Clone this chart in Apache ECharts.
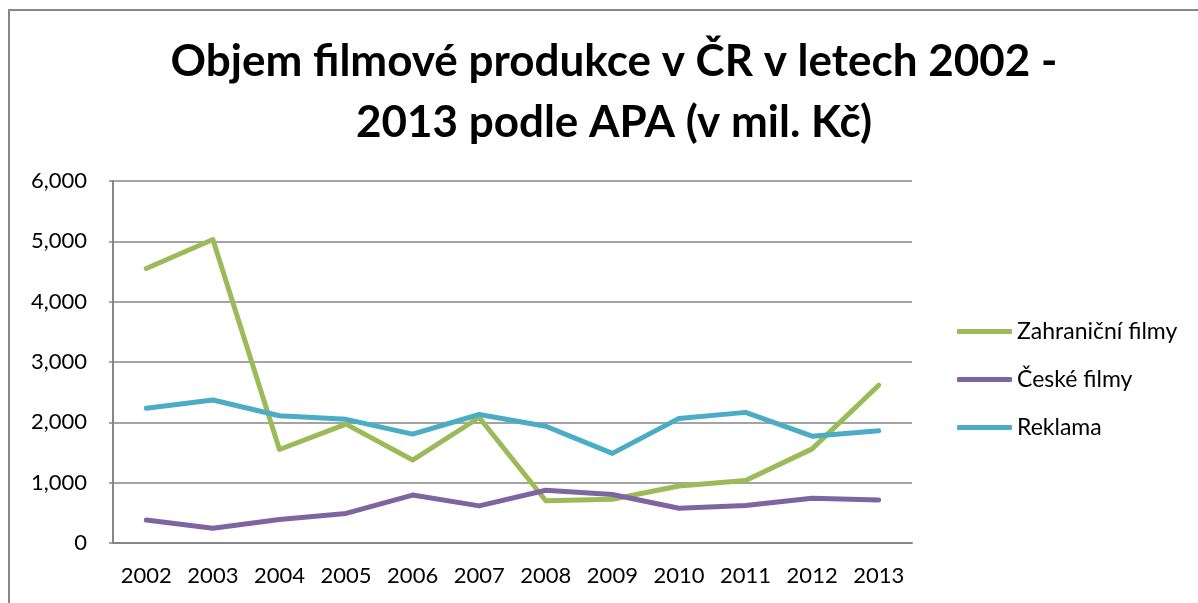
<!DOCTYPE html>
<html>
<head>
<meta charset="utf-8">
<script src="https://cdn.jsdelivr.net/npm/echarts@6/dist/echarts.min.js"></script>
<style>
html, body { margin: 0; padding: 0; background: #fff; }
#chart { width: 1198px; height: 603px; }
</style>
</head>
<body>
<div id="chart"></div>
<script>
// data (mil. Kč)
const years = ['2002', '2003', '2004', '2005', '2006', '2007', '2008', '2009', '2010', '2011', '2012', '2013']
const zahranicni = [4550, 5030, 1550, 1970, 1375, 2080, 700, 725, 945, 1035, 1560, 2615]
const ceske = [380, 245, 390, 490, 795, 615, 875, 805, 575, 620, 740, 712]
const reklama = [2235, 2370, 2110, 2050, 1805, 2130, 1935, 1485, 2065, 2165, 1770, 1860]

const font = 'Lato, "Open Sans", sans-serif'

const chart = echarts.init(document.getElementById('chart'))

function line(name, data, color) {
	return {
		name: name,
		type: 'line',
		data: data,
		symbol: 'none',
		color: color,
		lineStyle: { width: 5, color: color, cap: 'round', join: 'round' },
		animation: false
	}
}

chart.setOption({
	title: {
		text: 'Objem filmové produkce v ČR v letech 2002 -\n2013 podle APA (v mil. Kč)',
		left: 609,
		top: 26,
		textAlign: 'center',
		textStyle: {
			fontFamily: font,
			fontWeight: 'bold',
			fontSize: 44,
			lineHeight: 61,
			color: '#000'
		}
	},
	graphic: [{
		type: 'rect',
		shape: { x: 9, y: 10, width: 1200, height: 600 },
		style: { fill: null, stroke: '#868686', lineWidth: 2 },
		silent: true
	}],
	legend: {
		orient: 'vertical',
		left: 952,
		top: 315,
		icon: 'roundRect',
		itemWidth: 55,
		itemHeight: 5,
		itemGap: 25,
		itemTextGap: 2,
		textStyle: { fontFamily: font, fontSize: 23, color: '#000' },
		data: ['Zahraniční filmy', 'České filmy', 'Reklama']
	},
	grid: {
		left: 113,
		right: 286,
		top: 181,
		bottom: 60
	},
	xAxis: {
		type: 'category',
		data: years,
		boundaryGap: true,
		axisLine: { lineStyle: { color: '#868686', width: 2 } },
		axisTick: { show: false },
		axisLabel: { fontFamily: font, fontSize: 22, color: '#000', margin: 22 }
	},
	yAxis: {
		type: 'value',
		min: 0,
		max: 6000,
		interval: 1000,
		axisLine: { show: true, lineStyle: { color: '#868686', width: 2 } },
		axisTick: { show: true, length: 4, lineStyle: { color: '#868686', width: 1.5 } },
		splitLine: { lineStyle: { color: '#868686', width: 1.5 } },
		axisLabel: {
			fontFamily: font,
			fontSize: 22,
			color: '#000',
			margin: 26,
			formatter: v => v.toLocaleString('en-US')
		}
	},
	series: [
		line('Zahraniční filmy', zahranicni, '#9BBB59'),
		line('České filmy', ceske, '#8064A2'),
		line('Reklama', reklama, '#4BACC6')
	]
})
</script>
</body>
</html>
